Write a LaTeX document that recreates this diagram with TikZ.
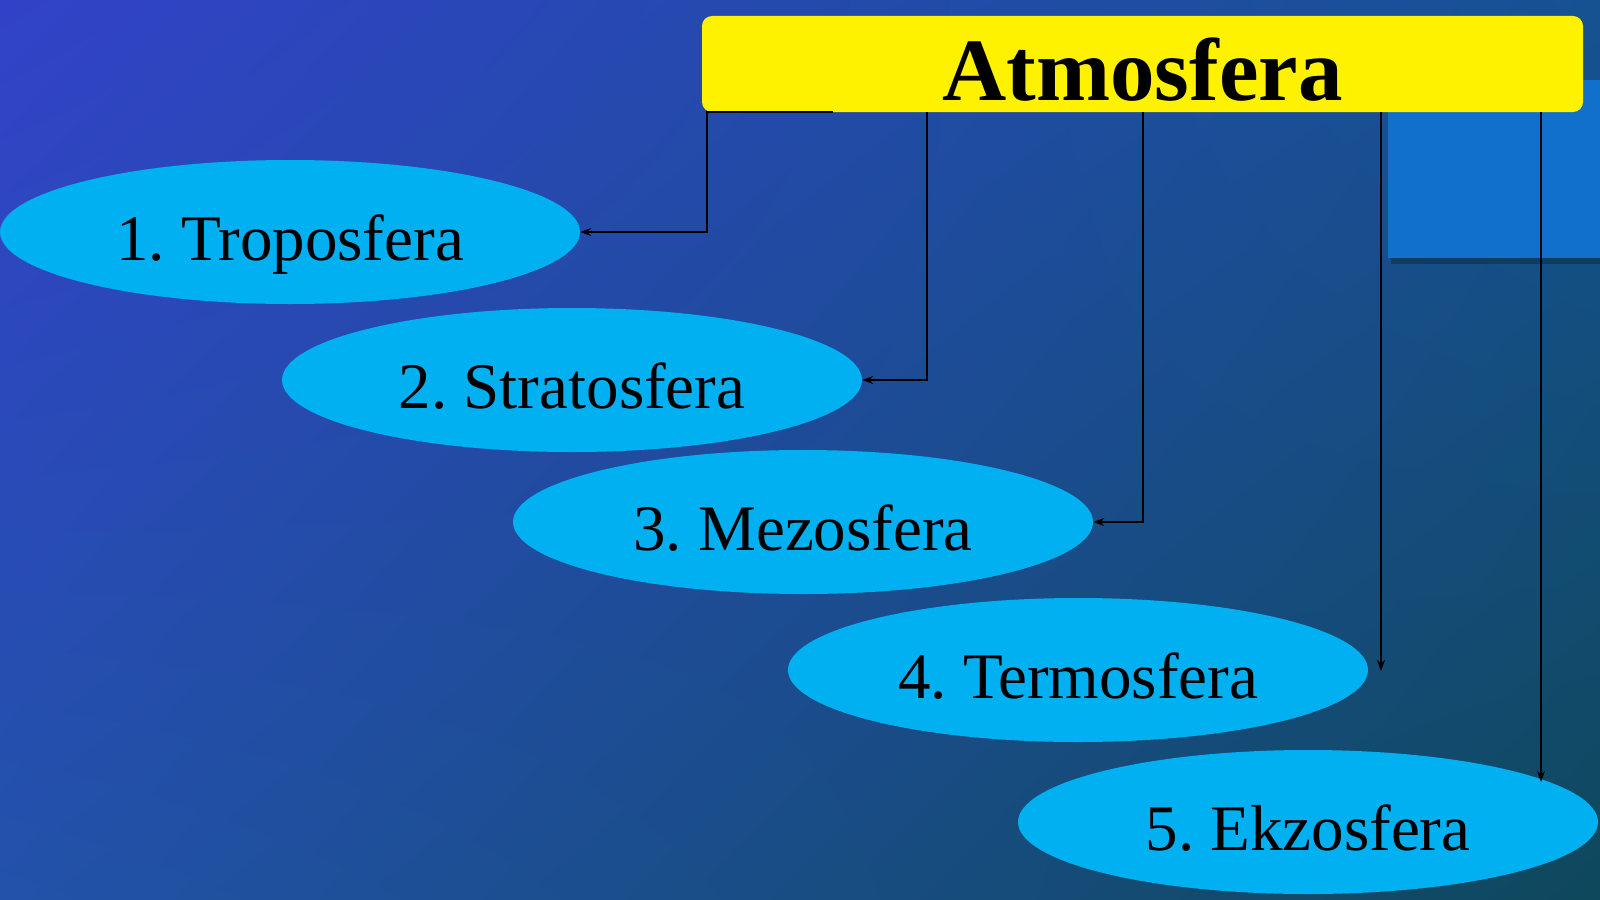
\documentclass[tikz,border=0pt]{standalone}
\usepackage{fontspec}
\setmainfont{Liberation Serif}
\usetikzlibrary{shapes.geometric,arrows.meta,shadings}
\frenchspacing

\definecolor{bgtl}{RGB}{50,66,200}
\definecolor{bgtr}{RGB}{22,82,146}
\definecolor{bgbl}{RGB}{34,82,170}
\definecolor{bgbr}{RGB}{14,72,92}
\definecolor{layercyan}{RGB}{0,176,240}
\definecolor{cornerblue}{RGB}{16,112,204}

\begin{document}
\begin{tikzpicture}[x=1pt, y=-1pt,
  layer/.style={ellipse, fill=layercyan, inner sep=0pt, minimum width=580pt, minimum height=144pt,
    text height=56pt, text depth=0pt, font=\fontsize{65}{70}\selectfont},
  link/.style={draw=black, line width=2pt, -{Stealth[length=11pt,width=8pt]}}]

\useasboundingbox (0,0) rectangle (1600,899);
\shade[upper left=bgtl, upper right=bgtr, lower left=bgbl, lower right=bgbr] (0,0) rectangle (1600,899);

% corner square
\fill[black, opacity=0.25] (1391,84) rectangle (1600,264);
\fill[cornerblue] (1388,80) rectangle (1600,258);

\node[fill=yellow, rounded corners=10pt, minimum width=881pt, minimum height=96pt, inner sep=0pt,
  text height=73pt, text depth=0pt, font=\fontsize{89}{95}\selectfont\bfseries] (title) at (1142.5,64) {Atmosfera};

\node[layer] (t1) at (290,232) {1. Troposfera};
\node[layer] (t2) at (572,380) {2. Stratosfera};
\node[layer] (t3) at (803,522) {3. Mezosfera};
\node[layer] (t4) at (1078,670) {4. Termosfera};
\node[layer] (t5) at (1308,822) {5. Ekzosfera};

\coordinate (c1) at (833,112);
\coordinate (c2) at (927,112);
\coordinate (c3) at (1143,112);
\coordinate (c4) at (1381,112);
\coordinate (c5) at (1541,112);
\coordinate (e4) at (1381,671);% just off t4
\coordinate (e5) at (1541,782);% on the rim of t5

\draw[link] (c1) -- (707,112) |- (t1.east);
\draw[link] (c2) |- (t2.east);
\draw[link] (c3) |- (t3.east);
\draw[link] (c4) -- (e4);
\draw[link] (c5) -- (e5);
\end{tikzpicture}
\end{document}
